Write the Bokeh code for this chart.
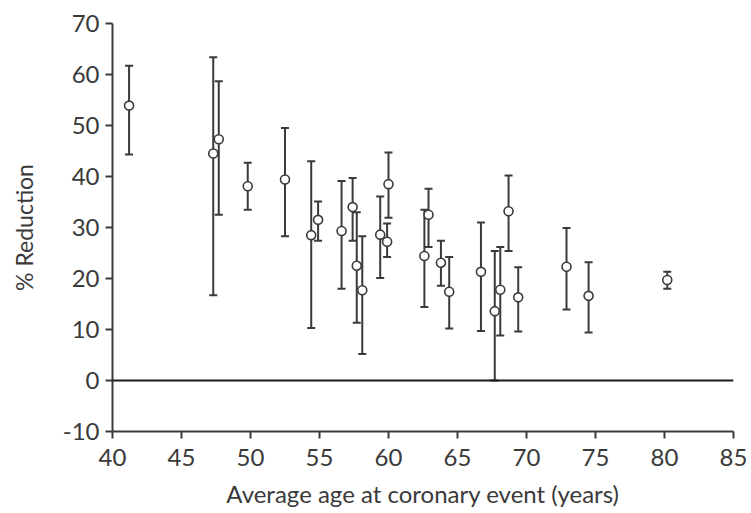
from bokeh.embed import file_html
from bokeh.models import (ColumnDataSource, FixedTicker, Range1d, Span,
                          TeeHead, Whisker)
from bokeh.plotting import figure
from bokeh.resources import INLINE

# Average age at coronary event (years) for each study
age = [41.2, 47.3, 47.7, 49.8, 52.5, 54.4, 54.9, 56.6, 57.4, 57.7, 58.1,
       59.4, 60.0, 59.9, 62.9, 62.6, 63.8, 64.4, 66.7, 67.7, 68.1, 68.7,
       69.4, 72.9, 74.5, 80.2]
# Percentage reduction in coronary events
reduction = [53.9, 44.5, 47.3, 38.1, 39.4, 28.5, 31.5, 29.3, 34.0, 22.5,
             17.7, 28.6, 38.5, 27.2, 32.5, 24.4, 23.1, 17.4, 21.3, 13.6,
             17.8, 33.2, 16.3, 22.3, 16.6, 19.7]
# Lower and upper limits of the confidence intervals
ci_low = [44.3, 16.7, 32.5, 33.5, 28.3, 10.3, 27.4, 18.0, 27.4, 11.3, 5.2,
          20.1, 31.9, 24.2, 26.2, 14.4, 18.6, 10.2, 9.7, 0.0, 8.8, 25.4,
          9.6, 13.9, 9.4, 18.0]
ci_high = [61.7, 63.4, 58.7, 42.7, 49.5, 43.0, 35.1, 39.1, 39.7, 33.0,
           28.3, 36.1, 44.7, 30.8, 37.6, 33.5, 27.4, 24.2, 31.0, 25.4,
           26.2, 40.2, 22.2, 29.9, 23.2, 21.3]

x_ticks = [40, 45, 50, 55, 60, 65, 70, 75, 80, 85]
y_ticks = [-10, 0, 10, 20, 30, 40, 50, 60, 70]

FONT = "Lato"
INK = "#3a3a3a"

source = ColumnDataSource(dict(age=age, reduction=reduction,
                               low=ci_low, high=ci_high))

p = figure(width=751, height=513, output_backend="svg", toolbar_location=None,
           x_range=Range1d(40, 85), y_range=Range1d(-10, 70),
           min_border_left=112, min_border_right=18,
           min_border_top=23, min_border_bottom=82)
p.outline_line_color = None
p.background_fill_color = "white"
p.border_fill_color = "white"
p.xgrid.visible = False
p.ygrid.visible = False

# Axes: plain lines with outward ticks
for ax in (p.xaxis[0], p.yaxis[0]):
    ax.axis_line_color = INK
    ax.axis_line_width = 2
    ax.major_tick_line_color = INK
    ax.major_tick_line_width = 2
    ax.major_tick_in = 0
    ax.major_tick_out = 7
    ax.minor_tick_line_color = None
    ax.major_label_text_font = FONT
    ax.major_label_text_font_size = "24px"
    ax.major_label_text_color = INK
    ax.axis_label_text_font = FONT
    ax.axis_label_text_font_style = "normal"
    ax.axis_label_text_color = INK

p.xaxis.ticker = FixedTicker(ticks=x_ticks)
p.yaxis.ticker = FixedTicker(ticks=y_ticks)
p.yaxis.major_label_overrides = {-10: "-10"}
p.xaxis.major_label_standoff = 10
p.yaxis.major_label_standoff = 6

p.xaxis.axis_label = "Average age at coronary event (years)"
p.xaxis.axis_label_text_font_size = "24px"
p.xaxis.axis_label_standoff = 10

p.yaxis.axis_label = "% Reduction"
p.yaxis.axis_label_text_font_size = "23px"
p.yaxis.axis_label_standoff = 22

# Reference line at zero reduction
p.add_layout(Span(location=0, dimension="width", line_color="#1a1a1a",
                  line_width=2))

# Confidence interval bars
p.add_layout(Whisker(source=source, base="age", lower="low", upper="high",
                     line_color=INK, line_width=2,
                     upper_head=TeeHead(size=8, line_color=INK, line_width=2),
                     lower_head=TeeHead(size=8, line_color=INK, line_width=2)))

# Point estimates as open circles
p.scatter("age", "reduction", source=source, marker="circle", size=9,
          fill_color="white", line_color=INK, line_width=1.6)

open("out.html", "w").write(file_html(p, INLINE))
